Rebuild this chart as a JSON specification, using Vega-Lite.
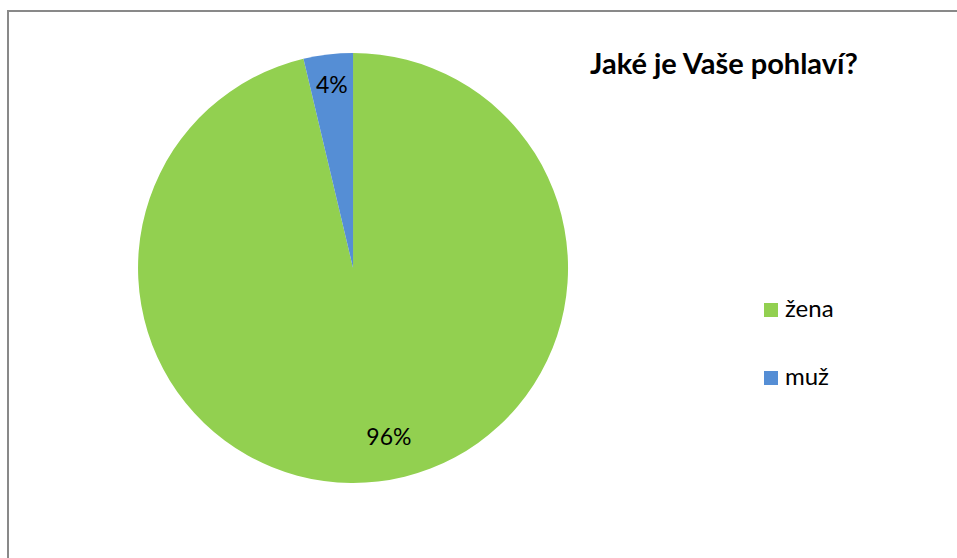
{
  "$schema": "https://vega.github.io/schema/vega-lite/v6.json",
  "autosize": "none",
  "padding": {"left": 8, "top": 11, "right": 0, "bottom": 0},
  "width": 950,
  "height": 548,
  "background": "white",
  "view": {"stroke": "#898989", "strokeWidth": 2, "fill": "white"},
  "config": {
    "font": "Lato"
  },
  "title": {
    "text": "Jaké je Vaše pohlaví?",
    "anchor": "start",
    "frame": "group",
    "orient": "top",
    "offset": 0,
    "baseline": "alphabetic",
    "dx": 582,
    "dy": 92,
    "font": "Lato",
    "fontSize": 29,
    "fontWeight": "bold",
    "color": "#000000"
  },
  "data": {
    "values": [
      {"pohlavi": "žena", "pocet": 26, "popisek": "96%"},
      {"pohlavi": "muž", "pocet": 1, "popisek": "4%"}
    ]
  },
  "encoding": {
    "theta": {"field": "pocet", "type": "quantitative", "stack": true},
    "order": {"field": "pohlavi", "sort": "descending"},
    "color": {
      "field": "pohlavi",
      "type": "nominal",
      "scale": {"domain": ["žena", "muž"], "range": ["#92D050", "#558ED5"]},
      "legend": {
        "title": null,
        "orient": "none",
        "legendX": 751,
        "legendY": 287,
        "padding": 0,
        "symbolType": "square",
        "symbolSize": 196,
        "symbolStrokeWidth": 0,
        "labelFont": "Lato",
        "labelFontSize": 24,
        "labelColor": "#000000",
        "labelOffset": 2,
        "rowPadding": 44
      }
    }
  },
  "layer": [
    {
      "mark": {"type": "arc", "radius": 215, "x": {"expr": "width*0.3632"}, "y": {"expr": "height*0.469"}, "stroke": null}
    },
    {
      "mark": {
        "type": "text",
        "radius": {"expr": "datum.pohlavi == 'muž' ? 183 : 171"},
        "dx": {"expr": "datum.pohlavi == 'muž' ? 0 : 16"},
        "x": {"expr": "width*0.3632"},
        "y": {"expr": "height*0.469"},
        "fontSize": 23,
        "font": "Lato",
        "color": "#000000",
        "align": "center",
        "baseline": "middle"
      },
      "encoding": {"text": {"field": "popisek"}, "color": {"value": "#000000"}}
    }
  ]
}
